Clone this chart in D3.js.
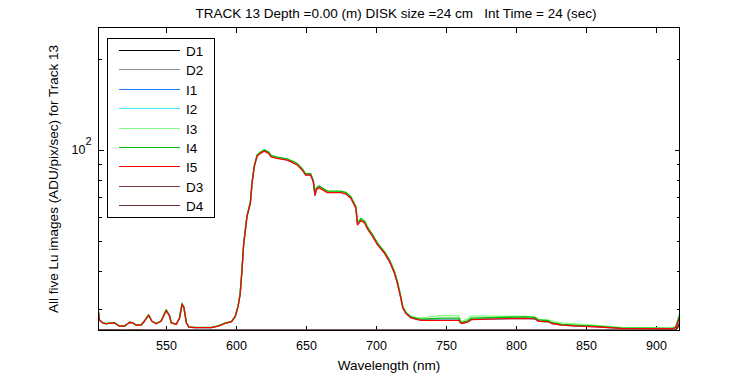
<!DOCTYPE html>
<html>
<head>
<meta charset="utf-8">
<script src="https://cdn.jsdelivr.net/npm/d3@7"></script>
<style>
  html, body { margin: 0; padding: 0; background: #fff; }
  svg { display: block; }
  text { font-family: "Liberation Sans", Arial, Helvetica, sans-serif; fill: #000; }
</style>
</head>
<body>
<svg id="chart" width="750" height="375"></svg>
<script>
// ---------------- data ----------------
const titleText = "TRACK 13 Depth =0.00 (m) DISK size =24 cm   Int Time = 24 (sec)";
const xLabel = "Wavelength (nm)";
const yLabel = "All five Lu images (ADU/pix/sec) for Track 13";
const xDomain = [501.9, 916.6];
const yDomain = [25.45, 253.4];
const xTicks = [550, 600, 650, 700, 750, 800, 850, 900];
const yMajorTicks = [100];
const yMinorTicks = [30, 40, 50, 60, 70, 80, 90, 200];

const seriesNames = ["D1", "D2", "I1", "I2", "I3", "I4", "I5", "D3", "D4"];

const wavelengths = [501.9, 502.6, 504.8, 507.2, 510.8, 513.2, 516.8, 520.4, 524.0, 526.3,
  528.7, 532.3, 534.7, 537.6, 540.0, 543.0, 546.6, 550.2, 552.7, 553.8,
  557.4, 559.8, 561.5, 562.9, 564.6, 566.3, 570.6, 582.5, 587.3, 592.1,
  596.8, 599.5, 601.5, 603.0, 604.3, 605.5, 607.9, 610.3, 611.5, 613.1,
  615.1, 617.4, 620.3, 623.4, 625.1, 629.4, 636.6, 640.2, 643.8, 647.3,
  649.7, 653.3, 655.2, 656.4, 657.6, 659.3, 665.3, 674.8, 678.4, 682.0,
  685.6, 686.8, 689.2, 692.0, 694.0, 697.6, 701.1, 705.9, 709.5, 713.1,
  715.5, 717.4, 719.1, 721.4, 725.0, 729.8, 732.2, 746.6, 759.0, 760.9,
  765.2, 768.1, 787.2, 806.3, 813.5, 815.9, 823.1, 825.5, 832.6, 844.6,
  856.5, 874.5, 911.5, 913.9, 916.6];

const I5 = [29.2, 27.5, 26.98, 26.78, 26.9, 26.98, 26.3, 26.3, 27.04, 26.98,
  26.5, 26.5, 27.3, 28.56, 27.3, 26.78, 27.3, 29.6, 28.35, 26.98,
  26.64, 28.0, 31.0, 30.2, 26.98, 26.1, 26.0, 26.0, 26.3, 26.84,
  27.17, 28.3, 30.5, 33.5, 40.0, 48.75, 60.4, 66.8, 77.7, 88.2,
  95.56, 97.5, 99.25, 97.5, 95.06, 93.9, 92.7, 91.1, 89.3, 85.98,
  82.78, 82.78, 78.7, 71.1, 74.3, 75.2, 72.4, 72.4, 71.7, 69.4,
  64.4, 56.7, 58.6, 57.45, 54.9, 51.9, 48.75, 45.8, 43.0, 39.4,
  36.0, 33.0, 30.2, 28.93, 28.0, 27.65, 27.5, 27.5, 27.5, 26.84,
  27.1, 27.65, 27.8, 27.9, 27.8, 27.3, 27.17, 26.84, 26.5, 26.3,
  26.18, 25.85, 25.79, 25.99, 28.0];

const I4 = [29.3, 27.6, 27.0, 26.8, 26.95, 27.0, 26.35, 26.35, 27.1, 27.0,
  26.55, 26.55, 27.4, 28.7, 27.35, 26.8, 27.4, 29.8, 28.45, 27.0,
  26.7, 28.1, 31.3, 30.4, 27.0, 26.15, 26.05, 26.05, 26.35, 26.9,
  27.25, 28.4, 30.6, 33.7, 40.3, 49.2, 61.0, 67.5, 78.4, 89.0,
  96.4, 98.3, 100.2, 98.5, 96.0, 94.8, 93.5, 92.0, 90.2, 86.9,
  83.6, 83.6, 79.5, 72.5, 75.3, 76.2, 73.3, 73.3, 72.6, 70.3,
  65.2, 57.6, 59.5, 58.3, 55.7, 52.6, 49.4, 46.4, 43.6, 39.9,
  36.5, 33.4, 30.5, 29.2, 28.2, 27.85, 27.75, 27.95, 27.95, 27.0,
  27.4, 27.95, 28.1, 28.2, 28.1, 27.6, 27.4, 27.0, 26.65, 26.45,
  26.3, 25.95, 25.85, 26.1, 28.6];

const I3 = [29.25, 27.55, 27.0, 26.8, 26.9, 27.0, 26.3, 26.3, 27.05, 27.0,
  26.5, 26.5, 27.35, 28.6, 27.3, 26.8, 27.35, 29.7, 28.4, 27.0,
  26.65, 28.05, 31.1, 30.3, 27.0, 26.1, 26.0, 26.05, 26.3, 26.85,
  27.2, 28.35, 30.55, 33.6, 40.2, 49.0, 60.8, 67.2, 78.1, 88.7,
  96.1, 98.0, 100.0, 98.2, 95.8, 94.5, 93.2, 91.7, 89.9, 86.6,
  83.3, 83.3, 79.2, 72.0, 75.0, 75.9, 73.0, 73.0, 72.3, 70.0,
  64.9, 57.3, 59.2, 58.0, 55.4, 52.3, 49.1, 46.1, 43.3, 39.7,
  36.3, 33.2, 30.4, 29.1, 28.3, 28.0, 28.0, 28.5, 28.5, 27.2,
  27.8, 28.4, 28.4, 28.3, 28.2, 27.7, 27.6, 27.3, 26.9, 26.7,
  26.5, 26.05, 25.95, 26.2, 28.8];

const I2 = [29.2, 27.5, 27.0, 26.8, 26.9, 27.0, 26.3, 26.3, 27.05, 27.0,
  26.5, 26.5, 27.3, 28.6, 27.3, 26.8, 27.3, 29.65, 28.4, 27.0,
  26.65, 28.0, 31.05, 30.25, 27.0, 26.1, 26.0, 26.0, 26.3, 26.85,
  27.2, 28.3, 30.5, 33.55, 40.1, 48.9, 60.6, 67.0, 78.0, 88.6,
  96.0, 98.1, 100.1, 98.3, 95.7, 94.4, 93.1, 91.6, 89.8, 86.5,
  83.2, 83.2, 79.1, 71.5, 74.8, 75.6, 72.8, 72.8, 72.1, 69.8,
  64.8, 57.0, 59.0, 57.8, 55.2, 52.2, 49.0, 46.0, 43.2, 39.6,
  36.2, 33.1, 30.3, 29.0, 28.05, 27.7, 27.55, 27.6, 27.6, 26.9,
  27.15, 27.7, 27.85, 27.95, 27.85, 27.35, 27.2, 26.9, 26.55, 26.35,
  26.2, 25.88, 25.8, 26.0, 28.1];

const I1 = [29.2, 27.5, 27.0, 26.8, 26.9, 27.0, 26.3, 26.3, 27.05, 27.0,
  26.5, 26.5, 27.3, 28.6, 27.3, 26.8, 27.3, 29.6, 28.4, 27.0,
  26.65, 28.0, 31.0, 30.2, 27.0, 26.1, 26.0, 26.0, 26.3, 26.85,
  27.2, 28.3, 30.5, 33.5, 40.0, 48.8, 60.5, 66.9, 77.8, 88.4,
  95.8, 97.8, 99.6, 97.9, 95.4, 94.2, 92.9, 91.3, 89.5, 86.2,
  82.9, 82.9, 78.8, 70.8, 74.5, 75.4, 72.6, 72.6, 71.9, 69.6,
  64.6, 56.9, 58.8, 57.6, 55.1, 52.1, 48.9, 45.9, 43.1, 39.5,
  36.1, 33.05, 30.25, 28.95, 28.02, 27.68, 27.6, 27.6, 27.55, 26.86,
  27.12, 27.68, 27.82, 27.92, 27.82, 27.32, 27.18, 26.86, 26.52, 26.32,
  26.2, 25.87, 25.8, 26.0, 28.0];

const darkWavelengths = [501.9, 503.0, 505.0, 520.0, 530.0, 533.0, 540.0, 560.0, 600.0, 700.0, 800.0, 900.0, 913.9, 916.6];
const D1 = [25.6, 25.48, 25.48, 25.48, 25.48, 25.48, 25.48, 25.48, 25.48, 25.48, 25.48, 25.48, 25.48, 26.6];
const D2 = [25.7, 25.5, 25.5, 25.5, 25.5, 25.5, 25.5, 25.5, 25.5, 25.5, 25.5, 25.5, 25.5, 26.8];
const D3 = [25.65, 25.48, 25.6, 25.48, 25.55, 25.48, 25.48, 25.48, 25.48, 25.48, 25.48, 25.48, 25.5, 26.9];
const D4 = [25.6, 25.47, 25.47, 25.47, 25.47, 25.47, 25.47, 25.47, 25.47, 25.47, 25.47, 25.47, 25.5, 26.7];

const seriesColors = ["#000000", "#8c8c8c", "#1a80ff", "#40e8ff", "#80ff80", "#00c000", "#ff0000", "#804040", "#6a3030"];

// ---------------- layout ----------------
const svg = d3.select("#chart");
const L = 98.5, R = 679.5, T = 27.5, B = 330.5;

const x = d3.scaleLinear().domain(xDomain).range([L, R]);
const y = d3.scaleLog().domain(yDomain).range([B, T]);

const seriesData = {
  D1: darkWavelengths.map((w, i) => [w, D1[i]]),
  D2: darkWavelengths.map((w, i) => [w, D2[i]]),
  I1: wavelengths.map((w, i) => [w, I1[i]]),
  I2: wavelengths.map((w, i) => [w, I2[i]]),
  I3: wavelengths.map((w, i) => [w, I3[i]]),
  I4: wavelengths.map((w, i) => [w, I4[i]]),
  I5: wavelengths.map((w, i) => [w, I5[i]]),
  D3: darkWavelengths.map((w, i) => [w, D3[i]]),
  D4: darkWavelengths.map((w, i) => [w, D4[i]])
};

svg.append("rect").attr("x", L).attr("y", T).attr("width", R - L).attr("height", B - T)
  .attr("fill", "#fff");

// axes (ticks inside, box)
const tickLen = 5;
const gx = svg.append("g");
xTicks.forEach(t => {
  const px = Math.round(x(t)) + 0.5;
  gx.append("line").attr("x1", px).attr("x2", px).attr("y1", B).attr("y2", B - tickLen)
    .attr("stroke", "#000").attr("shape-rendering", "crispEdges");
  gx.append("line").attr("x1", px).attr("x2", px).attr("y1", T).attr("y2", T + tickLen)
    .attr("stroke", "#000").attr("shape-rendering", "crispEdges");
  gx.append("text").attr("x", px).attr("y", B + 19).attr("text-anchor", "middle")
    .attr("font-size", 12.5).text(t);
});

const gy = svg.append("g");
yMajorTicks.concat(yMinorTicks).forEach(t => {
  const py = Math.round(y(t)) + 0.5;
  const len = yMajorTicks.includes(t) ? 5 : 3;
  gy.append("line").attr("x1", L).attr("x2", L + len).attr("y1", py).attr("y2", py)
    .attr("stroke", "#000").attr("shape-rendering", "crispEdges");
  gy.append("line").attr("x1", R).attr("x2", R - len).attr("y1", py).attr("y2", py)
    .attr("stroke", "#000").attr("shape-rendering", "crispEdges");
});
yMajorTicks.forEach(t => {
  const py = y(t);
  const lab = gy.append("text").attr("x", L - 7).attr("y", py + 3.5).attr("text-anchor", "end")
    .attr("font-size", 12.5);
  lab.append("tspan").text("10");
  lab.append("tspan").attr("dy", -9).attr("font-size", 11).text(Math.round(Math.log10(t)));
});

// lines
const line = d3.line().x(d => x(d[0])).y(d => y(d[1]));
svg.append("clipPath").attr("id", "clip").append("rect")
  .attr("x", L).attr("y", T).attr("width", R - L).attr("height", B - T + 1);
const gl = svg.append("g").attr("clip-path", "url(#clip)");
seriesNames.forEach((name, i) => {
  gl.append("path").datum(seriesData[name]).attr("d", line)
    .attr("fill", "none").attr("stroke", seriesColors[i]).attr("stroke-width", 1.3)
    .attr("stroke-linejoin", "round");
});

// box
svg.append("rect").attr("x", L).attr("y", T).attr("width", R - L).attr("height", B - T)
  .attr("fill", "none").attr("stroke", "#000").attr("shape-rendering", "crispEdges");
seriesNames.filter(n => n === "D3" || n === "D4").forEach(name => {
  const i = seriesNames.indexOf(name);
  gl.append("path").datum(seriesData[name]).attr("d", line)
    .attr("fill", "none").attr("stroke", seriesColors[i]).attr("stroke-width", 1.1);
});

// legend
const lg = svg.append("g");
const lgX = 107.5, lgY = 38.5, lgW = 107, lgH = 179;
lg.append("rect").attr("x", lgX).attr("y", lgY).attr("width", lgW).attr("height", lgH)
  .attr("fill", "#fff").attr("stroke", "#000").attr("shape-rendering", "crispEdges");
seriesNames.forEach((name, i) => {
  const yy = Math.round(50 + i * 19.4) + 0.5;
  lg.append("line").attr("x1", 119).attr("x2", 180).attr("y1", yy).attr("y2", yy)
    .attr("stroke", seriesColors[i]).attr("shape-rendering", "crispEdges");
  lg.append("text").attr("x", 186).attr("y", yy + 5).attr("font-size", 13.5).text(name);
});

// title and labels
svg.append("text").attr("x", (L + R) / 2 + 7).attr("y", 18).attr("text-anchor", "middle")
  .attr("font-size", 13.5).style("white-space", "pre").text(titleText);
svg.append("text").attr("x", (L + R) / 2).attr("y", 370).attr("text-anchor", "middle")
  .attr("font-size", 13.5).text(xLabel);
svg.append("text").attr("transform", `translate(58,${(T + B) / 2}) rotate(-90)`)
  .attr("text-anchor", "middle").attr("font-size", 13.5).text(yLabel);
</script>
</body>
</html>
